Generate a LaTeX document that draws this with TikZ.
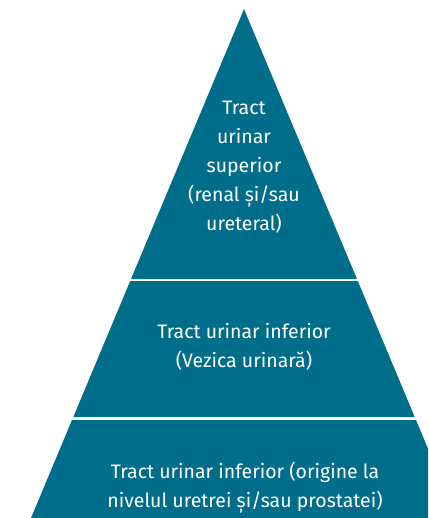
\documentclass[tikz,border=0pt]{standalone}
\usepackage{fontspec}
\setmainfont{Fira Sans}
\usepackage{xcolor}
\usetikzlibrary{positioning, calc}
\definecolor{pyrblue}{HTML}{006D8B}
\tikzset{
    pyramid/.style={x=1pt, y=-1pt},
    layer/.style={fill=pyrblue, draw=none},
    % white text inside a layer
    layertext/.style={text=white, align=center, inner sep=0pt, font=\fontsize{19.5}{29}\selectfont},
}

\begin{document}
\begin{tikzpicture}[pyramid]
    \useasboundingbox (0,0) rectangle (428,518);
    \begin{scope}
        \clip (0,0) rectangle (428,518);
        \coordinate (apex) at (244,9);

        \fill[layer] (apex) -- (357,279) -- (131,279) -- cycle;
        \fill[layer] (130.2,281) -- (357.8,281) -- (414.7,417) -- (73.3,417) -- cycle;
        \fill[layer] (72,420) -- (416,420) -- (462,530) -- (26,530) -- cycle;
    \end{scope}

    \node[layertext] (upper)   at (244,167) {Tract\\urinar\\superior\\(renal și/sau\\ureteral)};
    \node[layertext] (bladder) at (244,347) {Tract urinar inferior\\(Vezica urinară)};
    \node[layertext] (lower)   at (245,488) {Tract urinar inferior (origine la\\nivelul uretrei și/sau prostatei)};
\end{tikzpicture}
\end{document}
